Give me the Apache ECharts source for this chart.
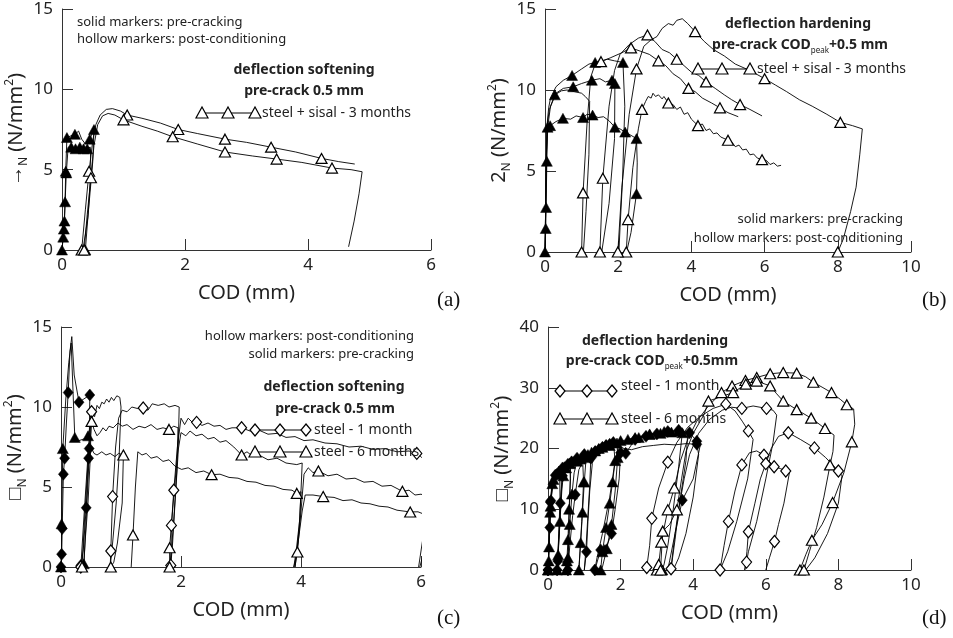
<!DOCTYPE html>
<html>
<head>
<meta charset="utf-8">
<title>COD curves</title>
<script src="https://cdn.jsdelivr.net/npm/echarts@6/dist/echarts.min.js"></script>
</head>
<body style="margin:0">
<div id="main" style="width:953px;height:638px;"></div>
<script type="text/javascript">
// each point: [COD, stress, marker?]
// (a) steel + sisal - 3 months, softening
var aPre1 = [[0,0,1],[0.02,0.8,1],[0.03,1.3,1],[0.04,1.8,1],[0.05,3.0,1],[0.06,4.9,1],[0.08,7.0,1],[0.14,7.1],[0.21,7.2,1],[0.27,7.4],[0.32,6.9],[0.38,6.6],[0.45,6.9,1],[0.52,7.5,1],[0.5,5.5],[0.42,2],[0.34,0]];
var aPre2 = [[0,0],[0.04,2],[0.07,4.8,1],[0.1,6.4],[0.15,6.4,1],[0.22,6.3,1],[0.29,6.4,1],[0.35,6.3,1],[0.41,6.3,1],[0.46,6.4],[0.47,5],[0.43,2.5],[0.38,0,1]];
var aPost1 = [[0.32,0,1],[0.38,2.5],[0.44,4.9,1],[0.5,6.8],[0.55,7.8],[0.62,8.4],[0.72,8.75],[0.82,8.8],[0.95,8.65],[1.06,8.4,1],[1.3,8.2],[1.6,7.9],[1.89,7.5,1],[2.2,7.25],[2.65,6.9,1],[3.0,6.7],[3.4,6.4,1],[3.8,6.1],[4.22,5.7,1],[4.5,5.5],[4.76,5.35]];
var aPost2 = [[0.36,0,1],[0.41,2.2],[0.47,4.5,1],[0.52,6.5],[0.58,7.8],[0.66,8.35],[0.75,8.5],[0.86,8.4],[1.0,8.1,1],[1.3,7.7],[1.55,7.4],[1.8,7.05,1],[2.2,6.6],[2.65,6.1,1],[3.1,5.85],[3.49,5.66,1],[3.9,5.45],[4.39,5.1,1],[4.7,5.0],[4.88,4.87],[4.83,3.5],[4.75,1.8],[4.66,0.2]];

// (b) steel + sisal - 3 months, hardening
var bPre1 = [[0,0,1],[0.02,1.45,1],[0.03,2.75,1],[0.05,5.6,1],[0.07,7.7,1],[0.14,7.8,1],[0.3,8.05],[0.49,8.25,1],[0.7,8.2],[0.85,8.4],[1.04,8.3,1],[1.15,8.5],[1.3,8.45,1],[1.45,8.3],[1.6,8.35],[1.75,8.1],[1.91,7.7,1],[2.05,7.6],[2.19,7.4,1],[2.35,7.2],[2.5,7.0,1],[2.52,5.5],[2.5,3.6,1],[2.35,1.2],[2.24,0.1]];
var bPre2 = [[0,0],[0.04,6],[0.08,7.8],[0.15,9.0],[0.27,9.7,1],[0.45,9.95],[0.6,10.0],[0.8,9.9],[1.0,9.8],[1.1,9.6],[1.22,9.3],[1.2,6],[1.12,2.5],[1.05,0]];
var bPre3 = [[0,0],[0.05,7.7],[0.12,8.8],[0.3,9.8],[0.5,10.1],[0.77,10.2,1],[1.0,10.4],[1.28,10.6,1],[1.5,10.7],[1.65,10.5],[1.83,10.6,1],[1.91,10.4,1],[1.9,7],[1.75,3],[1.55,0]];
var bPre4 = [[0,0],[0.05,7.7],[0.1,8.9],[0.15,9.5],[0.3,10.2],[0.5,10.6],[0.74,10.9,1],[1.0,11.3],[1.2,11.6],[1.37,11.7,1],[1.55,11.8],[1.7,11.9],[1.9,11.8],[2.13,11.7,1],[2.18,9],[2.12,4.5],[2.05,1.5],[2.02,0]];
var bPost1 = [[2.22,0,1],[2.27,2.0,1],[2.4,5.2],[2.55,7.6],[2.65,8.8,1],[2.75,9.3],[2.82,9.6],[2.9,9.5],[2.95,9.8],[3.02,9.6],[3.1,9.7],[3.2,9.45],[3.25,9.6],[3.37,9.2,1],[3.5,9.1],[3.6,8.8],[3.7,8.95],[3.8,8.5],[3.9,8.6],[4.0,8.2],[4.18,7.8,1],[4.3,7.9],[4.4,7.5],[4.5,7.6],[4.6,7.3],[4.7,7.35],[4.8,7.1],[5.0,6.9,1],[5.1,6.8],[5.2,6.5],[5.3,6.6],[5.4,6.3],[5.5,6.35],[5.6,6.0],[5.7,6.05],[5.8,5.8],[5.93,5.7,1],[6.05,5.65],[6.15,5.4],[6.25,5.5],[6.35,5.3],[6.45,5.35]];
var bPost2 = [[1.0,0,1],[1.04,3.65,1],[1.15,8],[1.25,10.8],[1.37,11.6],[1.53,11.75,1],[1.8,12.0],[2.1,12.3],[2.35,12.6,1],[2.6,12.4],[2.85,12.2],[3.1,11.8,1],[3.3,11.5],[3.5,11.0],[3.7,10.7],[3.92,10.1,1],[4.1,9.9],[4.3,9.5],[4.55,9.2],[4.78,8.9,1],[5.0,8.6],[5.28,8.35]];
var bPost3 = [[1.5,0,1],[1.58,4.55,1],[1.75,9],[1.9,11.2],[2.05,12.2],[2.3,12.8],[2.55,13.2],[2.8,13.4,1],[3.0,13.0],[3.2,12.5],[3.4,12.3],[3.6,11.9,1],[3.8,11.5],[4.0,11.1],[4.2,10.9],[4.4,10.5,1],[4.65,10.1],[4.9,9.7],[5.1,9.4],[5.33,9.1,1],[5.6,8.8],[5.93,8.4]];
var bPost4 = [[1.99,0,1],[2.1,4],[2.3,8.5],[2.5,11.3,1],[2.7,12.7],[2.9,13.1],[3.06,13.3],[3.2,13.8],[3.37,14.1],[3.5,14.0],[3.6,14.3],[3.75,14.4],[3.9,14.1],[4.1,13.6,1],[4.35,13.0],[4.6,12.5],[4.9,12.1],[5.2,11.6],[5.6,11.2],[6.0,10.7,1],[6.3,10.3],[6.6,9.9],[6.95,9.4],[7.3,9.0],[7.7,8.5],[8.07,8.0,1],[8.4,7.8],[8.67,7.6],[8.6,6],[8.5,4],[8.35,2.5],[8.15,0.8],[8.0,0,1]];

// (c) steel - 1 month (diamonds) / 6 months (triangles), softening
var cPreD = [[0,0,1],[0.01,0.8,1],[0.02,2.4,1],[0.04,5.8,1],[0.06,6.8,1],[0.09,9.0],[0.12,10.9,1],[0.15,13.5],[0.18,14.4],[0.22,12],[0.3,10.3,1],[0.38,10.5],[0.48,10.75,1],[0.47,7.4,1],[0.46,6.8,1],[0.42,3.7,1],[0.37,1],[0.33,0.1,1]];
var cPreT = [[0,0,1],[0.01,1.1],[0.01,2.7,1],[0.03,7.4,1],[0.08,10.5],[0.13,12.8],[0.17,14.0],[0.2,11],[0.23,8.1,1],[0.3,7.9],[0.38,8.0],[0.45,8.2,1],[0.5,9.0],[0.49,7],[0.45,4],[0.4,1.5],[0.38,0.2,1]];
var cPostM = [[0.33,0,1],[0.38,3],[0.45,7],[0.51,9.7,1],[0.56,9.4],[0.6,10.1],[0.64,9.9],[0.68,10.3],[0.72,10.2],[0.76,10.5],[0.8,10.3],[0.84,10.6],[0.88,10.4],[0.93,10.7],[0.98,10.6],[1.0,10.0],[0.97,7],[0.92,4],[0.86,1.5],[0.82,0],[0.83,1.0,1],[0.86,4.4,1],[0.91,7.5],[0.96,9.3],[1.02,9.8],[1.1,9.7],[1.18,10.0],[1.28,9.9],[1.37,9.94,1],[1.45,9.8],[1.52,10.2],[1.62,10.1],[1.72,10.2],[1.8,10.0],[1.9,10.1],[1.97,10.0],[1.95,7],[1.9,4],[1.86,1.5],[1.83,0.1,1],[1.84,2.6,1],[1.88,4.8,1],[1.94,7.5],[2.0,9.3],[2.06,8.9],[2.12,9.3],[2.2,9.0],[2.26,9.04,1],[2.35,8.85],[2.45,9.0],[2.55,8.8],[2.65,8.85],[2.75,8.6],[2.85,8.7],[3.01,8.7,1],[3.15,8.5],[3.3,8.55],[3.45,8.3],[3.6,8.35],[3.75,8.1],[3.9,8.15],[4.05,7.9],[4.2,7.95],[4.4,7.75],[4.6,7.7],[4.8,7.5],[5.0,7.55],[5.2,7.35],[5.4,7.4],[5.6,7.2],[5.8,7.25],[5.93,7.1,1],[6.0,6.9],[6.07,6.6]];
var cPostT1 = [[0.38,0],[0.42,3],[0.47,7],[0.51,9.1,1],[0.55,8.6],[0.6,8.2],[0.65,8.4],[0.7,8.7],[0.75,8.5],[0.8,8.8],[0.87,8.7],[0.95,9.0],[1.02,8.8],[1.1,8.9],[1.2,8.6],[1.3,8.8],[1.4,8.7],[1.5,8.9],[1.6,8.6],[1.7,8.7],[1.8,8.6,1],[1.88,8.8],[1.95,8.7],[1.93,6],[1.88,3],[1.84,1],[1.81,0,1],[1.81,1.2,1],[1.87,4],[1.94,7],[2.0,8.4],[2.08,8.2],[2.15,8.5],[2.25,8.2],[2.35,8.3],[2.45,8.0],[2.55,8.1],[2.65,7.8],[2.75,7.9],[2.88,7.5],[3.01,7.0,1],[3.1,7.2],[3.2,6.9],[3.3,7.0],[3.45,6.7],[3.6,6.8],[3.75,6.5],[3.93,6.4],[4.02,6.5],[3.98,3],[3.92,1],[3.88,0],[3.94,0.94,1],[4.0,3.5],[4.05,5.8],[4.12,6.2],[4.2,5.9],[4.29,6.0,1],[4.45,5.7],[4.6,5.8],[4.75,5.5],[4.9,5.55],[5.05,5.3],[5.2,5.35],[5.35,5.05],[5.5,5.1],[5.69,4.73,1],[5.8,4.8],[5.9,4.5],[6.0,4.55],[6.1,4.4],[6.08,3],[6.02,1.5],[5.96,0]];
var cPostT2 = [[0.35,0,1],[0.4,3.5],[0.45,6.5],[0.5,7.5],[0.55,7.1],[0.6,7.0],[0.68,7.2],[0.75,7.0],[0.82,7.1],[0.9,6.9],[0.96,7.1],[1.04,7.0,1],[1.06,6.9],[1.02,4],[0.94,1.5],[0.88,0.3],[0.83,0,1]];
var cPostT3 = [[1.17,0],[1.2,2.0,1],[1.24,5],[1.28,7.2],[1.35,7.0],[1.42,7.1],[1.5,6.8],[1.6,6.9],[1.7,6.6],[1.8,6.7],[1.9,6.3],[2.01,6.1],[2.12,6.2],[2.25,5.9],[2.38,6.0],[2.51,5.77,1],[2.65,5.8],[2.8,5.6],[2.95,5.55],[3.1,5.35],[3.25,5.3],[3.4,5.1],[3.55,5.05],[3.7,4.85],[3.85,4.8],[3.93,4.6,1],[4.0,4.7],[3.97,2.5],[3.92,0.5],[3.9,0],[3.95,1.5],[4.02,3.5],[4.07,4.5],[4.2,4.5],[4.37,4.4,1],[4.55,4.35],[4.7,4.15],[4.85,4.2],[5.0,4.0],[5.15,3.95],[5.3,3.8],[5.45,3.75],[5.6,3.55],[5.82,3.44,1],[5.95,3.45],[6.05,3.3],[6.15,3.37],[6.12,2.2],[6.05,1.0],[5.98,0]];

// (d) steel - 1 month (diamonds) / 6 months (triangles), hardening
var dPreT1 = [[0,0,1],[0.02,1.5,1],[0.03,3.8,1],[0.06,9.5,1],[0.1,13.2],[0.15,14.9,1],[0.25,15.8,1],[0.35,16.4,1],[0.37,14],[0.33,8],[0.28,3],[0.25,0,1],[0.28,2.5,1],[0.33,8,1],[0.38,13],[0.42,15.5,1],[0.5,16.8,1],[0.6,17.5,1],[0.7,17.9],[0.8,18.3,1],[0.95,18.7,1],[1.0,18.9],[0.98,14.5,1],[0.93,8],[0.88,3],[0.85,0,1],[0.9,4.5,1],[0.95,9.5,1],[1.0,14.5,1],[1.05,18.5,1],[1.2,19.4,1],[1.4,20.0,1],[1.6,20.6,1],[1.8,21.0,1],[2.0,21.3,1],[2.2,21.4],[2.4,21.8,1],[2.6,22.0],[2.8,22.4,1],[3.0,22.5],[3.2,22.8,1],[3.4,22.7],[3.6,22.9,1],[3.7,22.6],[3.6,17],[3.45,10],[3.3,4],[3.2,1],[3.15,0,1]];
var dPreT2 = [[0,0,1],[0.03,4.5],[0.07,10.5,1],[0.12,14.2,1],[0.2,15.5],[0.3,16.3,1],[0.45,17.0,1],[0.6,17.6,1],[0.62,15],[0.58,10,1],[0.55,5,1],[0.52,1.5,1],[0.5,0,1],[0.55,2,1],[0.6,7.5,1],[0.66,12.5,1],[0.72,16],[0.8,17.9,1],[0.9,18.3,1],[1.1,19.0,1],[1.3,19.6,1],[1.5,20.2,1],[1.7,20.5,1],[1.9,20.9,1],[1.92,18.5,1],[1.85,13],[1.75,7.5,1],[1.62,3.5,1],[1.5,0.5],[1.45,0,1],[1.5,3,1],[1.6,7,1],[1.7,11,1],[1.78,14.5,1],[1.85,18,1],[1.95,20.5],[2.2,21.5,1],[2.5,21.8,1],[2.8,22.3,1],[3.1,22.5,1],[3.4,22.7,1],[3.7,22.6,1],[3.85,22.5],[3.8,18],[3.65,12],[3.5,6],[3.35,1.5],[3.3,0]];
var dPreD1 = [[0,0,1],[0.02,2.5],[0.05,7,1],[0.08,11.4,1],[0.15,14.5],[0.25,15.8,1],[0.32,16.3],[0.33,12],[0.3,6],[0.27,1.5,1],[0.25,0,1],[0.29,5],[0.34,11,1],[0.4,15.5,1],[0.5,17.0],[0.65,17.8,1],[0.8,18.4,1],[1.0,19.0,1],[1.18,18.4,1],[1.15,14],[1.1,9],[1.05,4],[1.0,0],[1.06,3,1],[1.1,8],[1.15,13],[1.22,17.5],[1.3,19.5,1],[1.5,20.2,1],[1.7,20.7,1],[1.9,20.4],[2.1,20.0],[2.3,19.8],[2.6,20.3],[2.9,20.5],[3.2,20.7],[3.5,20.6],[3.8,20.8],[4.1,20.7,1],[4.15,19],[4.0,12],[3.8,6],[3.6,2],[3.45,0]];
var dPreD2 = [[0,0,1],[0.03,5],[0.06,11.2,1],[0.12,14.6],[0.2,15.6,1],[0.4,16.8,1],[0.55,17.4,1],[0.62,17.0],[0.6,12],[0.57,6],[0.55,1],[0.55,0,1],[0.6,4],[0.68,9],[0.75,12.4,1],[0.85,16.5],[1.0,18.4,1],[1.18,18.6,1],[1.4,19.8,1],[1.6,20.5,1],[1.8,21.0,1],[1.85,18],[1.7,12],[1.5,6],[1.35,2],[1.29,0,1],[1.45,3.3,1],[1.57,3.2,1],[1.75,6.0,1],[1.85,10],[1.96,15],[2.0,19.3,1],[2.14,19.2,1],[2.4,21.5,1],[2.7,22.0,1],[3.0,22.4,1],[3.3,22.8,1],[3.6,23.0,1],[3.9,22.6,1],[4.1,21.2,1],[4.2,20.7],[4.0,15],[3.7,11.5,1],[3.5,6],[3.42,2],[3.39,0.2]];
var dPostT1 = [[3.0,0,1],[3.05,0.9,1],[3.12,4.6,1],[3.3,9.9,1],[3.48,13.5,1],[3.65,18],[3.85,21.5],[4.1,24.5],[4.42,27.0],[4.78,29.2,1],[5.07,30.3,1],[5.44,31.2,1],[5.75,31.7,1],[6.12,32.3,1],[6.48,32.5,1],[6.85,32.4,1],[7.1,31.8],[7.31,30.9,1],[7.55,30.1],[7.81,29.2,1],[8.05,28.1],[8.23,27.2,1],[8.42,26.5],[8.45,24],[8.37,21.1,1],[8.15,16],[7.84,11.1,1],[7.55,7.5],[7.27,4.9,1],[7.1,2.5],[6.94,0,1]];
var dPostT2 = [[3.1,0,1],[3.16,6.4,1],[3.35,7.5],[3.55,9.9,1],[3.68,15],[3.8,19.5],[4.0,22.5],[4.3,25.6],[4.42,27.8,1],[4.8,28.6],[5.1,29.2,1],[5.45,30.6,1],[5.75,31.1,1],[6.12,30.3,1],[6.3,29],[6.48,27.8,1],[6.85,26.4,1],[7.25,25.0,1],[7.63,23.3,1],[7.88,22.2],[7.85,19.5],[7.77,17.3,1],[7.6,12],[7.4,7],[7.2,3],[7.05,0,1]];
var dPostD1 = [[2.72,0.4,1],[2.8,4],[2.86,8.5,1],[3.05,13.5],[3.3,17.75,1],[3.55,21],[3.85,23.5],[4.2,25.3],[4.55,26.6],[4.9,27.3,1],[5.15,26.2],[5.35,24.5],[5.52,22.9,1],[5.65,21.5],[5.5,15],[5.2,8],[4.95,3],[4.74,0,1],[4.85,4],[4.97,8.0,1],[5.15,13],[5.34,17.3,1],[5.55,19.3],[5.75,19.6],[5.95,18.9,1],[6.1,17.8],[6.23,17.0,1],[6.4,16.7],[6.55,16.3,1],[6.65,16.0],[6.5,11],[6.35,7.5],[6.24,4.7,1],[6.1,2],[6.0,0]];
var dPostD2 = [[3.39,0.2,1],[3.5,5],[3.6,10],[3.75,15],[3.9,19],[4.15,22.5],[4.45,24.8],[4.8,26.3],[5.05,26.8],[5.34,26.6,1],[5.65,27.0],[6.02,26.6,1],[6.2,26.3],[6.3,25.5],[6.2,21],[6.0,15],[5.75,8],[5.52,3],[5.47,1.3,1],[5.42,0],[5.48,3],[5.52,6.3,1],[5.7,11],[5.85,15],[6.0,17.5,1],[6.15,20],[6.35,22],[6.62,22.6,1],[6.95,21.5],[7.34,20.1,1],[7.65,18.5],[8.0,16.3,1],[8.1,15.5],[8.0,11],[7.7,6],[7.35,2],[7.1,0]];

var curves = [
  {g:0, pts:aPre1, sym:'triangle', hollow:false},
  {g:0, pts:aPre2, sym:'triangle', hollow:false},
  {g:0, pts:aPost1, sym:'triangle', hollow:true},
  {g:0, pts:aPost2, sym:'triangle', hollow:true},
  {g:1, pts:bPre1, sym:'triangle', hollow:false},
  {g:1, pts:bPre2, sym:'triangle', hollow:false},
  {g:1, pts:bPre3, sym:'triangle', hollow:false},
  {g:1, pts:bPre4, sym:'triangle', hollow:false},
  {g:1, pts:bPost1, sym:'triangle', hollow:true},
  {g:1, pts:bPost2, sym:'triangle', hollow:true},
  {g:1, pts:bPost3, sym:'triangle', hollow:true},
  {g:1, pts:bPost4, sym:'triangle', hollow:true},
  {g:2, pts:cPreD, sym:'diamond', hollow:false},
  {g:2, pts:cPreT, sym:'triangle', hollow:false},
  {g:2, pts:cPostM, sym:'diamond', hollow:true},
  {g:2, pts:cPostT1, sym:'triangle', hollow:true},
  {g:2, pts:cPostT2, sym:'triangle', hollow:true},
  {g:2, pts:cPostT3, sym:'triangle', hollow:true},
  {g:3, pts:dPreT1, sym:'triangle', hollow:false},
  {g:3, pts:dPreT2, sym:'triangle', hollow:false},
  {g:3, pts:dPreD1, sym:'diamond', hollow:false},
  {g:3, pts:dPreD2, sym:'diamond', hollow:false},
  {g:3, pts:dPostT1, sym:'triangle', hollow:true},
  {g:3, pts:dPostT2, sym:'triangle', hollow:true},
  {g:3, pts:dPostD1, sym:'diamond', hollow:true},
  {g:3, pts:dPostD2, sym:'diamond', hollow:true}
];

var xMax = [6, 10, 6, 10];
var yMax = [15, 15, 15, 40];
var yStep = [5, 5, 5, 10];
var yGlyph = ['→', '2', '□', '□'];

var FONT = '"Noto Sans", sans-serif';
var myChart = echarts.init(document.getElementById('main'));

var grids = [
  {left: 62, top: 9, width: 369, height: 241},
  {left: 545, top: 9, width: 366, height: 243},
  {left: 61, top: 327, width: 360, height: 240},
  {left: 548, top: 327, width: 363, height: 243}
];

var xAxes = [], yAxes = [];
for (var i = 0; i < 4; i++) {
  xAxes.push({
    gridIndex: i, type: 'value', min: 0, max: xMax[i], interval: 2,
    axisLine: {onZero: false, lineStyle: {color: '#333', width: 1}},
    axisTick: {inside: true, length: 11, lineStyle: {color: '#333'}},
    axisLabel: {color: '#222', fontSize: 17, margin: 7, fontFamily: FONT},
    splitLine: {show: false},
    name: 'COD (mm)', nameLocation: 'middle', nameGap: 33,
    nameTextStyle: {color: '#222', fontSize: 20, fontFamily: FONT}
  });
  yAxes.push({
    gridIndex: i, type: 'value', min: 0, max: yMax[i], interval: yStep[i],
    axisLine: {onZero: false, lineStyle: {color: '#333', width: 1}},
    axisTick: {inside: true, length: 11, lineStyle: {color: '#333'}},
    axisLabel: {color: '#222', fontSize: 17, margin: 9, fontFamily: FONT},
    splitLine: {show: false},
    name: '{g|' + yGlyph[i] + '}{s|N}{g| (N/mm}{p|2}{g|)}',
    nameLocation: 'middle', nameGap: 30, nameRotate: 90,
    nameTextStyle: {
      color: '#222', fontFamily: FONT,
      rich: {
        g: {fontSize: 20, fontFamily: FONT, color: '#222', lineHeight: 26},
        s: {fontSize: 12, fontFamily: FONT, color: '#222', verticalAlign: 'bottom', lineHeight: 26},
        p: {fontSize: 12, fontFamily: FONT, color: '#222', verticalAlign: 'top', lineHeight: 26}
      }
    }
  });
}

var series = curves.map(function (c) {
  return {
    type: 'line',
    xAxisIndex: c.g, yAxisIndex: c.g,
    symbol: c.sym,
    symbolSize: c.sym === 'triangle' ? [11, 10] : [10, 12],
    showSymbol: true, showAllSymbol: true,
    clip: false,
    silent: true, animation: false,
    z: c.hollow ? 3 : 2,
    lineStyle: {color: '#000', width: 0.9},
    itemStyle: {color: c.hollow ? '#fff' : '#000', borderColor: '#000', borderWidth: c.hollow ? 1.2 : 0.5},
    data: c.pts.map(function (p) {
      return {value: [p[0], p[1]], symbol: p[2] ? c.sym : 'none'};
    })
  };
});

// legend samples and notes
function mark(sym, cx, cy, hollow) {
  var pts = sym === 'triangle'
    ? [[cx - 6, cy + 5], [cx + 6, cy + 5], [cx, cy - 6]]
    : [[cx, cy - 6], [cx + 5, cy], [cx, cy + 6], [cx - 5, cy]];
  return {type: 'polygon', shape: {points: pts}, style: {fill: hollow ? '#fff' : '#000', stroke: '#000', lineWidth: 1.2}, z: 10};
}
function legendRow(sym, xs, y, label, tx, ty) {
  var out = [{type: 'line', shape: {x1: xs[0], y1: y, x2: xs[2], y2: y}, style: {stroke: '#000', lineWidth: 1}, z: 9}];
  xs.forEach(function (x) { out.push(mark(sym, x, y, true)); });
  out.push({type: 'text', x: tx, y: ty, z: 10, style: {text: label, fill: '#222', font: '14px ' + FONT, verticalAlign: 'middle'}});
  return out;
}
function note(text, x, y, align, size, bold) {
  return {type: 'text', x: x, y: y, z: 10, style: {text: text, fill: '#222', align: align, verticalAlign: 'middle',
    font: (bold ? 'bold ' : '') + size + 'px ' + FONT}};
}
function codPeak(x, y, tail) {
  return {type: 'text', x: x, y: y, z: 10, style: {
    text: '{b|pre-crack COD}{s|peak}{b|' + tail + '}', align: 'center', verticalAlign: 'middle',
    rich: {
      b: {fontSize: 14, fontWeight: 'bold', fontFamily: FONT, fill: '#222', lineHeight: 20},
      s: {fontSize: 8, fontFamily: FONT, fill: '#222', verticalAlign: 'bottom', lineHeight: 20}
    }
  }};
}
function panelTag(t, x, y) {
  return {type: 'text', x: x, y: y, z: 10, style: {text: t, fill: '#111', font: '21px "Liberation Serif", serif', verticalAlign: 'middle'}};
}

var graphics = [].concat(
  [note('solid markers: pre-cracking', 77, 22, 'left', 13),
   note('hollow markers: post-conditioning', 77, 39, 'left', 13),
   note('deflection softening', 304, 70, 'center', 14, true),
   note('pre-crack 0.5 mm', 304, 91, 'center', 14, true)],
  legendRow('triangle', [202, 228, 255], 113, 'steel + sisal - 3 months', 262, 113),
  [note('deflection hardening', 798, 24, 'center', 14, true),
   codPeak(800, 45, '+0.5 mm'),
   note('solid markers: pre-cracking', 903, 219, 'right', 13),
   note('hollow markers: post-conditioning', 903, 238, 'right', 13)],
  legendRow('triangle', [698, 722, 750], 69, 'steel + sisal - 3 months', 757, 69),
  [note('hollow markers: post-conditioning', 414, 336, 'right', 13),
   note('solid markers: pre-cracking', 414, 354, 'right', 13),
   note('deflection softening', 334, 387, 'center', 14, true),
   note('pre-crack 0.5 mm', 335, 409, 'center', 14, true)],
  legendRow('diamond', [255, 280, 306], 430, 'steel - 1 month', 314, 430),
  legendRow('triangle', [255, 280, 306], 452, 'steel - 6 months', 314, 452),
  [note('deflection hardening', 655, 341, 'center', 14, true),
   codPeak(652, 361, '+0.5mm')],
  legendRow('diamond', [560, 587, 612], 391, 'steel - 1 month', 621, 386),
  legendRow('triangle', [560, 587, 612], 419, 'steel - 6 months', 621, 419),
  [panelTag('(a)', 437, 300), panelTag('(b)', 922, 300), panelTag('(c)', 437, 618), panelTag('(d)', 922, 618)]
);

myChart.setOption({
  backgroundColor: '#fff',
  animation: false,
  grid: grids,
  xAxis: xAxes,
  yAxis: yAxes,
  series: series,
  graphic: graphics
});
</script>
</body>
</html>
